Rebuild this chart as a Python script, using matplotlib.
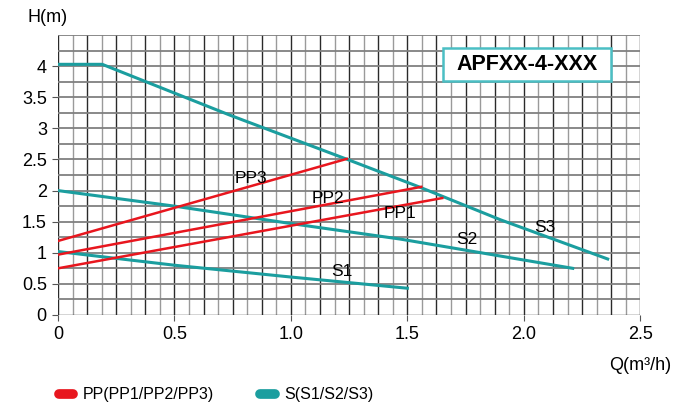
import numpy as np
import matplotlib.pyplot as plt
from matplotlib.lines import Line2D
from matplotlib.patches import Rectangle

plt.rcParams['font.family'] = ['Liberation Sans', 'DejaVu Sans']

# pump curves
s3_q = [0, 0.19, 0.74, 1.25, 1.55, 1.9, 2.36]
s3_h = [4.03, 4.03, 3.21, 2.49, 2.06, 1.53, 0.9]
s2_q = [0, 0.5, 1.0, 1.47, 2.21]
s2_h = [2.0, 1.75, 1.47, 1.22, 0.75]
s1_q = [0, 0.5, 1.0, 1.5]
s1_h = [1.02, 0.8, 0.61, 0.43]
pp3_q = [0, 1.24]
pp3_h = [1.19, 2.51]
pp2_q = [0, 1.56]
pp2_h = [0.97, 2.06]
pp1_q = [0, 1.65]
pp1_h = [0.75, 1.88]

labels = {"PP3": (0.83, 2.2), "PP2": (1.16, 1.87), "PP1": (1.47, 1.63),
          "S1": (1.22, 0.7), "S2": (1.757, 1.22), "S3": (2.09, 1.41)}

x_ticks = [0, 0.5, 1.0, 1.5, 2.0, 2.5]
x_labels = ["0", "0.5", "1.0", "1.5", "2.0", "2.5"]
y_ticks = [0, 0.5, 1, 1.5, 2, 2.5, 3, 3.5, 4]
y_labels = ["0", "0.5", "1", "1.5", "2", "2.5", "3", "3.5", "4"]

red = "#e8161e"
teal = "#1b9e9f"

fig = plt.figure(figsize=(6.74, 4.08), dpi=100)
ax = fig.add_axes([0.086, 0.228, 0.864, 0.686])
ax.set_xlim(0, 2.5)
ax.set_ylim(0, 4.5)

# grid: vertical lines alternate dark / grey, horizontal every 0.25
for i, x in enumerate(np.arange(0, 2.5001, 0.0625)):
    ax.axvline(x, color="#2a2a2a" if i % 2 == 0 else "#9a9a9a", lw=1.0, zorder=1)
for y in np.arange(0.25, 4.5001, 0.25):
    ax.axhline(y, color="#808080", lw=1.3, zorder=1)
ax.axhline(0, color="#2a2a2a", lw=1.0, zorder=1)

for q, h in [(s3_q, s3_h), (s2_q, s2_h), (s1_q, s1_h)]:
    ax.plot(q, h, color=teal, lw=2.2, zorder=3)
for q, h in [(pp3_q, pp3_h), (pp2_q, pp2_h), (pp1_q, pp1_h)]:
    ax.plot(q, h, color=red, lw=1.8, zorder=3)

for name, (x, y) in labels.items():
    ax.text(x, y, name, fontsize=12.5, ha="center", va="center", zorder=4)

ax.add_patch(Rectangle((1.654, 3.76), 0.721, 0.53, fc="white", ec="#4bbfc4",
                       lw=1.8, zorder=5))
ax.text(2.015, 4.02, "APFXX-4-XXX", fontsize=15.5, fontweight="bold",
        ha="center", va="center", zorder=6)

ax.set_xticks(x_ticks)
ax.set_xticklabels(x_labels)
ax.set_yticks(y_ticks)
ax.set_yticklabels(y_labels)
ax.tick_params(labelsize=13, length=4, color="#555555", pad=4)
for s in ax.spines.values():
    s.set_visible(False)

fig.text(0.071, 0.958, "H(m)", fontsize=13, va="center", ha="center")
fig.text(0.95, 0.105, "Q(m³/h)", fontsize=13, va="center", ha="center")

handles = [Line2D([], [], color=red, lw=7, solid_capstyle="round"),
           Line2D([], [], color=teal, lw=7, solid_capstyle="round")]
fig.legend(handles, ["PP(PP1/PP2/PP3)", "S(S1/S2/S3)"], loc="center left",
           bbox_to_anchor=(0.066, 0.032), ncol=2, frameon=False, fontsize=11.5,
           handlelength=0.9, columnspacing=2.9, handletextpad=0.6)

fig.savefig("out.png", dpi=100)
